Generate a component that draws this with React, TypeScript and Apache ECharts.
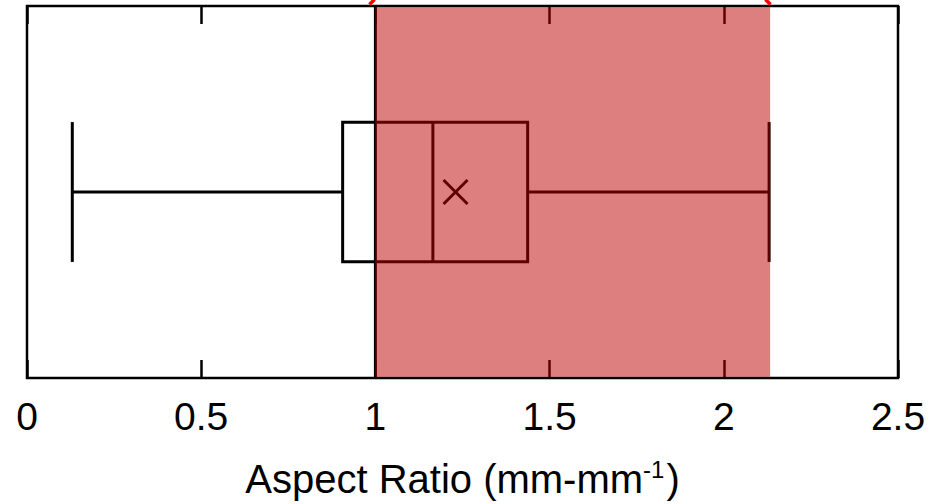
import React, { useEffect, useRef } from "react";
import * as echarts from "echarts";

// ---- data ----
const categories = [""];
// [min, Q1, median, Q3, max]
const boxStats = [[0.13, 0.906, 1.165, 1.437, 2.13]];
const meanValues = [1.23];
const highlightRange = [1.0, 2.133];
const axisMin = 0;
const axisMax = 2.5;
const axisInterval = 0.5;
const axisTitle = "Aspect Ratio (mm-mm";
const axisTitleSup = "-1";

const FONT = "'Liberation Sans', Arial, Helvetica, sans-serif";

export default function App() {
  const ref = useRef<HTMLDivElement>(null);

  useEffect(() => {
    document.body.style.margin = "0";
    const chart = echarts.init(ref.current!, null, { renderer: "svg" });

    const tickAxisBase = {
      type: "value",
      min: axisMin,
      max: axisMax,
      interval: axisInterval,
      axisLine: { show: false },
      axisTick: {
        show: true,
        inside: true,
        length: 18,
        lineStyle: { color: "#000", width: 2.5 },
      },
      splitLine: { show: false },
    };

    chart.setOption({
      animation: false,
      backgroundColor: "#fff",
      grid: {
        left: 27,
        right: 42,
        top: 6,
        bottom: 126,
        outerBoundsMode: "none",
        containLabel: false,
        show: true,
        borderColor: "#000",
        borderWidth: 2.5,
        backgroundColor: "transparent",
      },
      xAxis: [
        {
          ...tickAxisBase,
          position: "bottom",
          axisLabel: {
            show: true,
            margin: 19,
            fontSize: 39,
            fontFamily: FONT,
            color: "#000",
          },
          name: `{a|${axisTitle}}{s|${axisTitleSup}}{a|)}`,
          nameLocation: "middle",
          nameGap: 79,
          nameTextStyle: {
            rich: {
              a: { fontSize: 40, fontFamily: FONT, color: "#000", lineHeight: 44 },
              s: {
                fontSize: 24,
                fontFamily: FONT,
                color: "#000",
                lineHeight: 44,
                verticalAlign: "top",
                padding: [0, 2, 16, 0],
              },
            },
          },
        },
        {
          ...tickAxisBase,
          position: "top",
          axisLabel: { show: false },
        },
      ],
      yAxis: {
        type: "category",
        data: categories,
        axisLine: { show: false },
        axisTick: { show: false },
        axisLabel: { show: false },
        splitLine: { show: false },
      },
      graphic: [
        {
          type: "line",
          shape: { x1: 369.5, y1: 4.5, x2: 374.5, y2: -0.5 },
          style: { stroke: "#ff0000", lineWidth: 3.5 },
          z: 10,
        },
        {
          type: "line",
          shape: { x1: 765.5, y1: -0.5, x2: 770.5, y2: 4.5 },
          style: { stroke: "#ff0000", lineWidth: 3.5 },
          z: 10,
        },
      ],
      series: [
        {
          type: "custom",
          name: "box",
          z: 2,
          data: boxStats.map((s, i) => [i, ...s, meanValues[i]]),
          encode: { y: 0, x: [1, 2, 3, 4, 5, 6] },
          renderItem: (params: any, api: any) => {
            const cat = api.value(0);
            const px = (v: number) => api.coord([v, cat])[0];
            const cy = api.coord([api.value(1), cat])[1];
            const band = api.size([0, 1])[1];
            const boxH = band * 0.375;
            const capH = band * 0.188;
            const xMin = px(api.value(1));
            const xQ1 = px(api.value(2));
            const xMed = px(api.value(3));
            const xQ3 = px(api.value(4));
            const xMax = px(api.value(5));
            const xMean = px(api.value(6));
            const st = { stroke: "#000", lineWidth: 3, fill: null };
            const line = (x1: number, y1: number, x2: number, y2: number) => ({
              type: "line",
              shape: { x1, y1, x2, y2 },
              style: st,
            });
            const m = 12;
            return {
              type: "group",
              children: [
                line(xMin, cy, xQ1, cy),
                line(xQ3, cy, xMax, cy),
                line(xMin, cy - capH, xMin, cy + capH),
                line(xMax, cy - capH, xMax, cy + capH),
                {
                  type: "rect",
                  shape: { x: xQ1, y: cy - boxH / 2, width: xQ3 - xQ1, height: boxH },
                  style: { stroke: "#000", lineWidth: 3, fill: "#fff" },
                },
                line(xMed, cy - boxH / 2, xMed, cy + boxH / 2),
                line(xMean - m, cy - m, xMean + m, cy + m),
                line(xMean - m, cy + m, xMean + m, cy - m),
              ],
            };
          },
        },
        {
          type: "custom",
          name: "range",
          z: 5,
          data: [[highlightRange[0], highlightRange[1], 0]],
          encode: { x: [0, 1], y: 2 },
          renderItem: (params: any, api: any) => {
            const x0 = api.coord([api.value(0), 0])[0];
            const x1 = api.coord([api.value(1), 0])[0];
            const cs = params.coordSys;
            return {
              type: "group",
              children: [
                {
                  type: "line",
                  shape: { x1: x0, y1: cs.y, x2: x0, y2: cs.y + cs.height },
                  style: { stroke: "#000", lineWidth: 3 },
                },
                {
                  type: "rect",
                  shape: { x: x0, y: cs.y + 1.3, width: x1 - x0, height: cs.height - 2.6 },
                  style: { fill: "rgba(189,0,0,0.5)", stroke: null },
                },
              ],
            };
          },
        },
      ],
    });

    return () => chart.dispose();
  }, []);

  return <div ref={ref} style={{ width: 940, height: 504 }} />;
}
